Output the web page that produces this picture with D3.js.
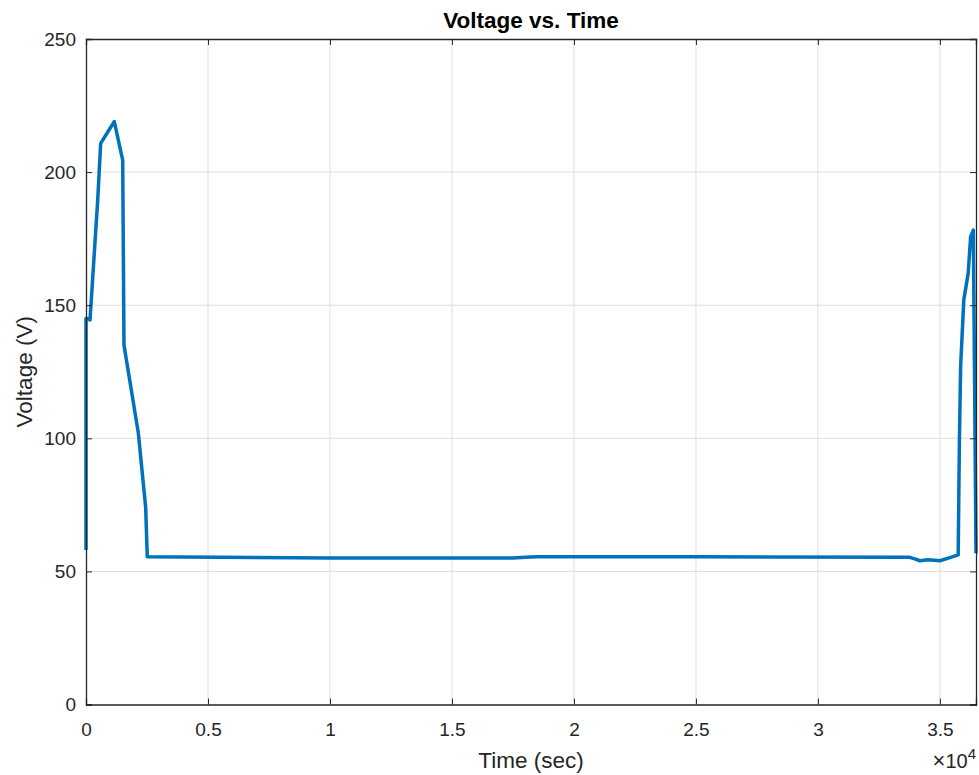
<!DOCTYPE html>
<html>
<head>
<meta charset="utf-8">
<script src="https://cdn.jsdelivr.net/npm/d3@7"></script>
<style>
  body { margin: 0; background: #fff; }
  text { font-family: "Liberation Sans", Arial, sans-serif; fill: #262626; }
</style>
</head>
<body>
<div id="wrapper"></div>
<script>
// time in seconds, voltage in volts
const timeSec = [0, 0, 0, 60, 164, 480, 602, 1160, 1504, 1557, 2145, 2446, 2512,
  10000, 17500, 18000, 18500, 25000, 33770, 34000, 34180, 34500, 34800, 35000, 35410, 35750,
  35800, 35850, 35980, 36160, 36260, 36370, 36480]
const voltage = [58, 106, 145, 145, 144.5, 189.5, 210.8, 219, 204.5, 135, 102, 74, 55.5,
  55, 55, 55.3, 55.5, 55.5, 55.3, 54.6, 54, 54.4, 54.2, 54, 55.2, 56.2,
  99, 127, 152, 162, 175.7, 178.2, 56.8]
const xTicks = [0, 5000, 10000, 15000, 20000, 25000, 30000, 35000]
const yTicks = [0, 50, 100, 150, 200, 250]

function drawChart() {
  let dimensions = {
    width: 979,
    height: 775,
    margin: { top: 39, right: 3, bottom: 70.5, left: 86 },
  }
  dimensions.boundedWidth = dimensions.width - dimensions.margin.left - dimensions.margin.right
  dimensions.boundedHeight = dimensions.height - dimensions.margin.top - dimensions.margin.bottom

  const wrapper = d3.select("#wrapper")
    .append("svg")
    .attr("width", dimensions.width)
    .attr("height", dimensions.height)

  const bounds = wrapper.append("g")
    .attr("transform", `translate(${dimensions.margin.left}, ${dimensions.margin.top})`)

  const xScale = d3.scaleLinear()
    .domain([0, d3.max(timeSec)])
    .range([0, dimensions.boundedWidth])
  const yScale = d3.scaleLinear()
    .domain([0, 250])
    .range([dimensions.boundedHeight, 0])

  // grid
  bounds.append("g").selectAll("line")
    .data(xTicks.slice(1))
    .enter().append("line")
    .attr("x1", d => xScale(d)).attr("x2", d => xScale(d))
    .attr("y1", 0).attr("y2", dimensions.boundedHeight)
    .attr("stroke", "#dedede")
  bounds.append("g").selectAll("line")
    .data(yTicks.slice(1, -1))
    .enter().append("line")
    .attr("y1", d => yScale(d)).attr("y2", d => yScale(d))
    .attr("x1", 0).attr("x2", dimensions.boundedWidth)
    .attr("stroke", "#dedede")

  // the line
  const lineGen = d3.line()
    .x((d, i) => xScale(timeSec[i]))
    .y(d => yScale(d))
  bounds.append("path")
    .attr("d", lineGen(voltage))
    .attr("fill", "none")
    .attr("stroke", "#0072BD")
    .attr("stroke-width", 3.5)
    .attr("stroke-linejoin", "round")

  // axes, ticks pointing inwards on all four sides
  const tickLen = 6
  const xBottom = bounds.append("g")
    .attr("transform", `translate(0, ${dimensions.boundedHeight})`)
    .call(d3.axisBottom(xScale).tickValues(xTicks).tickSize(-tickLen).tickPadding(18)
      .tickFormat(d => d / 10000))
  const xTop = bounds.append("g")
    .call(d3.axisTop(xScale).tickValues(xTicks).tickSize(-tickLen).tickFormat(""))
  const yLeft = bounds.append("g")
    .call(d3.axisLeft(yScale).tickValues(yTicks).tickSize(-tickLen).tickPadding(10))
  const yRight = bounds.append("g")
    .attr("transform", `translate(${dimensions.boundedWidth}, 0)`)
    .call(d3.axisRight(yScale).tickValues(yTicks).tickSize(-tickLen).tickFormat(""))

  ;[xBottom, xTop, yLeft, yRight].forEach(ax => {
    ax.select(".domain").attr("stroke", "#262626").attr("stroke-width", 1.3)
    ax.selectAll(".tick line").attr("stroke", "#262626")
    ax.selectAll(".tick text").attr("font-size", 19).style("font-family", "Liberation Sans, Arial, sans-serif").attr("fill", "#262626")
  })

  // title and labels
  wrapper.append("text")
    .attr("x", dimensions.margin.left + dimensions.boundedWidth / 2)
    .attr("y", 28)
    .attr("text-anchor", "middle")
    .attr("font-size", 22.5)
    .attr("font-weight", "bold")
    .style("fill", "#000")
    .text("Voltage vs. Time")

  wrapper.append("text")
    .attr("x", dimensions.margin.left + dimensions.boundedWidth / 2)
    .attr("y", 768)
    .attr("text-anchor", "middle")
    .attr("font-size", 22.5)
    .text("Time (sec)")

  wrapper.append("text")
    .attr("transform", `translate(32, ${dimensions.margin.top + dimensions.boundedHeight / 2}) rotate(-90)`)
    .attr("text-anchor", "middle")
    .attr("font-size", 22.5)
    .text("Voltage (V)")

  const expo = wrapper.append("text")
    .attr("x", 976)
    .attr("y", 768)
    .attr("text-anchor", "end")
    .attr("font-size", 20)
  expo.append("tspan").attr("font-size", 22).text("\u00d7")
  expo.append("tspan").text("10")
  expo.append("tspan").attr("font-size", 15).attr("dy", -9).text("4")
}
drawChart()
</script>
</body>
</html>
